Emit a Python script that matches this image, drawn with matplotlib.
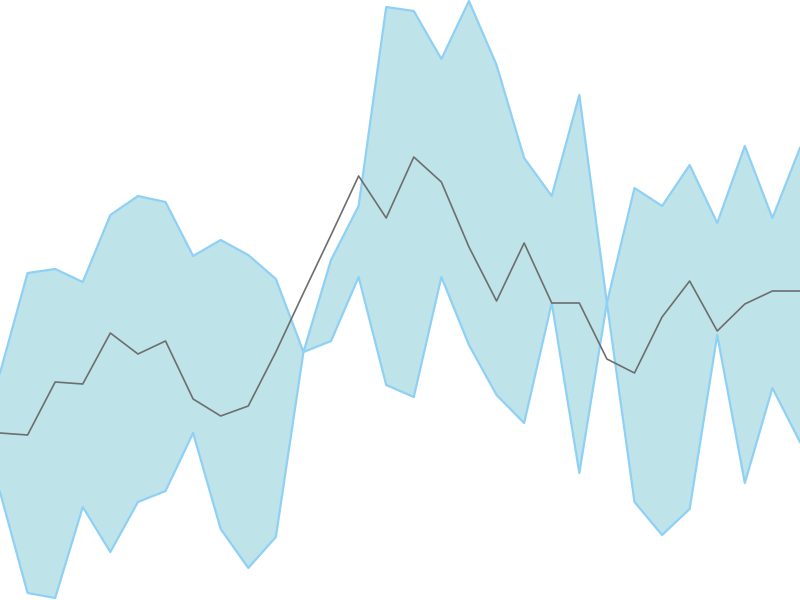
import numpy as np
import matplotlib
matplotlib.use("Agg")
import matplotlib.pyplot as plt

# values (0 = bottom edge, 600 = top edge)
steps = list(range(30))
band_a = [373, 273, 269, 282, 215, 196, 202, 256, 240, 255,
          279, 352, 260, 206, 7, 11, 59, 1, 65, 158,
          196, 95, 303, 502, 535, 509, 335, 483, 388, 442]
band_b = [492, 593, 598, 507, 552, 502, 491, 433, 529, 568,
          537, 352, 341, 277, 385, 397, 277, 345, 395, 423,
          303, 473, 303, 188, 206, 165, 223, 146, 218, 148]
middle = [433, 435, 382, 384, 333, 354, 341, 399, 416, 406,
          352, 293, 235, 176, 218, 157, 182, 247, 301, 243,
          303, 303, 359, 373, 317, 281, 331, 304, 291, 291]

# flip to "up is bigger"
band_a = 600 - np.array(band_a)
band_b = 600 - np.array(band_b)
middle = 600 - np.array(middle)

fig = plt.figure(figsize=(8, 6), dpi=100)
ax = fig.add_axes([0, 0, 1, 1])

ax.fill_between(steps, band_a, band_b, color="#bee4e9", linewidth=0)
ax.plot(steps, band_a, color="#8fd0f5", linewidth=1.6)
ax.plot(steps, band_b, color="#8fd0f5", linewidth=1.6)
ax.plot(steps, middle, color="#6e6e6e", linewidth=1.2)

ax.set_xlim(0, 29)
ax.set_ylim(0, 600)
ax.axis("off")

fig.savefig("out.png", dpi=100)
